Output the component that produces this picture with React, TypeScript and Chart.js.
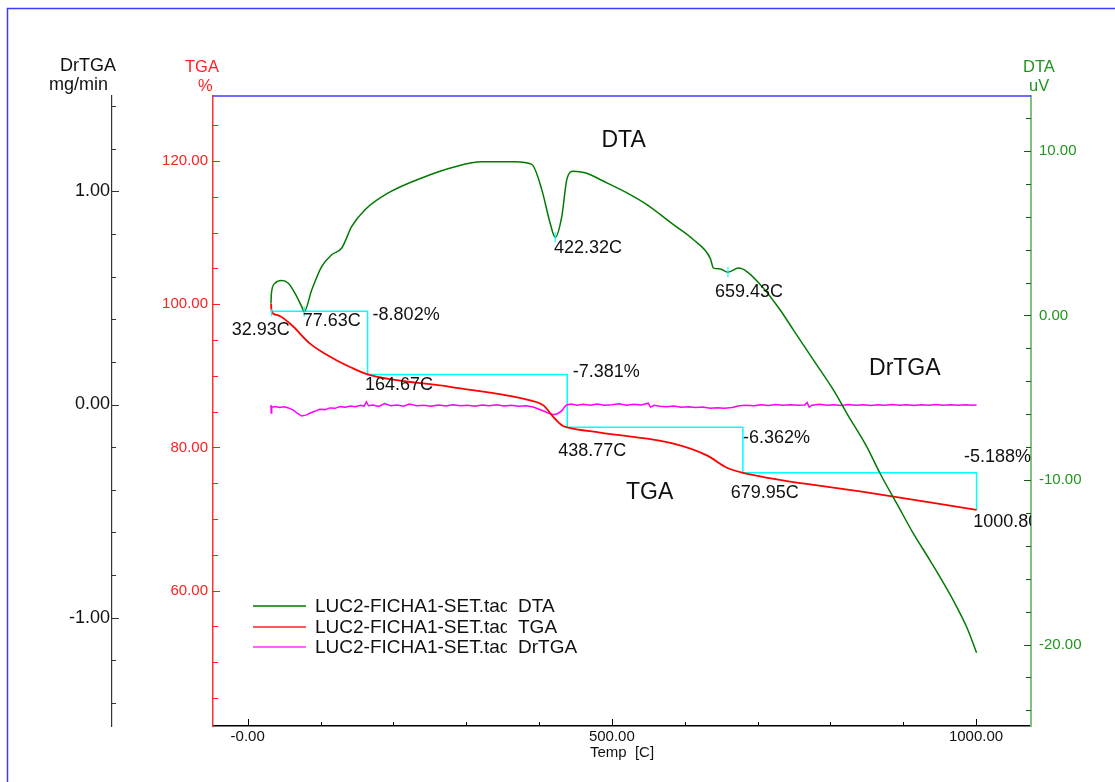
import React, { useEffect, useRef } from 'react';
import { Chart, registerables } from 'chart.js';

Chart.register(...registerables);

const FONT = '"Liberation Sans", Arial, Helvetica, sans-serif';

// ---- axes ----
const X_MIN = -47.6;
const X_MAX = 1075.5;
const X_TICKS = [0, 100, 200, 300, 400, 500, 600, 700, 800, 900, 1000];
const X_MAJOR = [0, 500, 1000];

const TGA_MIN = 41.09;
const TGA_MAX = 129.08;
const TGA_TICKS = [45, 50, 55, 60, 65, 70, 75, 80, 85, 90, 95, 100, 105, 110, 115, 120, 125];
const TGA_MAJOR = [60, 80, 100, 120];

const DR_MIN = -1.509;
const DR_MAX = 1.448;
const DR_TICKS = [-1.4, -1.2, -1.0, -0.8, -0.6, -0.4, -0.2, 0, 0.2, 0.4, 0.6, 0.8, 1.0, 1.2, 1.4];
const DR_MAJOR = [-1, 0, 1];

const DTA_MIN = -24.95;
const DTA_MAX = 13.34;
const DTA_TICKS = [-24, -22, -20, -18, -16, -14, -12, -10, -8, -6, -4, -2, 0, 2, 4, 6, 8, 10, 12];
const DTA_MAJOR = [-20, -10, 0, 10];

// ---- series ----
const DTA_T = [32.0, 32.6, 37.5, 46.7, 55.8, 65.0, 74.2, 77.63, 87.9, 101.6, 115.4, 129.1, 142.9, 161.1, 193.1, 239.0, 284.8, 321.4, 367.2, 390.1, 403.8, 415.2, 422.32, 431.3, 438.2, 447.3, 463.3, 493.1, 525.1, 548.1, 584.6, 612.1, 635.0, 639.6, 648.8, 659.43, 673.9, 685.4, 708.2, 731.2, 749.4, 776.9, 804.4, 822.8, 850.3, 868.5, 891.5, 914.3, 937.2, 969.2, 987.6, 1000.8];
const DTA_V = [0.74, 1.35, 1.96, 2.12, 1.96, 1.35, 0.54, 0.23, 1.55, 2.97, 3.69, 4.10, 5.41, 6.43, 7.45, 8.36, 9.04, 9.34, 9.34, 9.18, 7.65, 5.62, 4.74, 6.02, 8.26, 8.77, 8.67, 8.06, 7.35, 6.74, 5.52, 4.60, 3.49, 2.88, 2.83, 2.63, 2.88, 2.67, 1.66, 0.33, -0.89, -2.71, -4.54, -5.96, -8.00, -9.62, -11.45, -13.28, -14.91, -17.35, -18.98, -20.50];

const TGA_T = [32.0, 32.93, 40.0, 58.1, 85.6, 117.6, 140.5, 164.67, 277.9, 387.8, 406.0, 419.8, 431.3, 438.77, 483.9, 584.6, 630.5, 658.0, 679.95, 841.1, 1000.8];
const TGA_V = [100.1, 98.95, 98.5, 97.3, 94.5, 92.41, 91.23, 90.2, 88.46, 86.57, 85.87, 84.24, 83.08, 82.8, 82.07, 80.52, 78.88, 77.16, 76.46, 73.86, 71.27];

const DR_T = [32.0, 32.3, 33, 38, 44, 50, 56, 62, 68, 74, 80, 86, 92, 99, 106, 113, 120, 127, 134, 141, 148, 155, 160, 163, 166, 172, 180, 188, 196, 205, 214, 222, 232, 242, 252, 262, 272, 282, 292, 302, 312, 322, 332, 342, 352, 362, 372, 382, 392, 400, 408, 414, 420, 426, 431, 435, 438, 444, 452, 460, 470, 480, 490, 500, 510, 520, 530, 540, 550, 553, 558, 566, 575, 585, 595, 605, 615, 625, 635, 645, 655, 665, 675, 685, 695, 705, 715, 725, 735, 745, 755, 765, 768, 771, 775, 785, 795, 805, 815, 825, 835, 845, 855, 865, 875, 885, 895, 905, 915, 925, 935, 945, 955, 965, 975, 985, 995, 1000.8];
const DR_V = [-0.002, -0.04, -0.012, -0.01, -0.014, -0.011, -0.016, -0.025, -0.04, -0.054, -0.05, -0.04, -0.032, -0.022, -0.024, -0.016, -0.018, -0.01, -0.013, -0.007, -0.01, -0.004, -0.008, 0.012, -0.006, -0.002, -0.009, 0.004, -0.006, -0.002, -0.008, 0.002, -0.006, -0.003, -0.008, -0.002, -0.007, -0.001, -0.006, -0.003, -0.008, -0.002, -0.006, -0.001, -0.007, -0.003, -0.008, -0.006, -0.012, -0.022, -0.033, -0.043, -0.048, -0.042, -0.03, -0.012, -0.002, 0.002, -0.003, 0.001, -0.004, 0.002, -0.003, -0.001, 0.003, -0.004, 0.001, -0.002, 0.006, -0.012, -0.004, -0.008, -0.01, -0.007, -0.013, -0.01, -0.014, -0.012, -0.017, -0.015, -0.018, -0.014, -0.006, -0.003, -0.006, -0.001, -0.005, 0.0, -0.004, -0.001, -0.004, -0.002, 0.01, -0.012, -0.003, 0.001, -0.004, -0.001, -0.005, 0.0, -0.004, -0.001, -0.005, -0.001, -0.004, 0.0, -0.004, -0.001, -0.005, -0.001, -0.004, 0.0, -0.004, -0.001, -0.004, -0.001, -0.003, -0.002];

// TGA step analysis
const STEP_T = [32.93, 164.67, 438.77, 679.95, 1000.8];
const STEP_V = [99.0, 90.2, 82.8, 76.46, 71.27];
const STEP_LABELS = ['-8.802%', '-7.381%', '-6.362%', '-5.188%'];

// DTA peaks
const PEAK_T = [77.63, 422.32, 659.43];
const PEAK_V = [0.23, 4.74, 2.63];

const LEGEND_FILE = 'LUC2-FICHA1-SET.tad';
const LEGEND_NAMES = ['DTA', 'TGA', 'DrTGA'];

const C_DTA = '#007a00';
const C_TGA = '#ff0000';
const C_DR = '#ff00ff';
const C_STEP = '#00ffff';

const toPts = (ts: number[], vs: number[]) => ts.map((t, i) => ({ x: t, y: vs[i] }));

const overlayPlugin = {
  id: 'overlay',
  afterDraw(chart: any) {
    const { ctx, chartArea: ca, scales } = chart;
    const sx = scales.x;
    const sT = scales.yTGA;
    const sR = scales.yDr;
    const sD = scales.yDTA;
    ctx.save();

    // outer frame + top plot line
    ctx.strokeStyle = '#3c3cff';
    ctx.lineWidth = 1.5;
    ctx.beginPath();
    ctx.moveTo(7.5, 800);
    ctx.lineTo(7.5, 8.5);
    ctx.lineTo(1130, 8.5);
    ctx.stroke();
    ctx.beginPath();
    ctx.moveTo(ca.left, ca.top);
    ctx.lineTo(ca.right, ca.top);
    ctx.stroke();

    // inward tick marks
    const yTicks = (scale: any, ticks: number[], major: number[], x0: number, dir: number, lmaj: number, lmin: number, color: string) => {
      ctx.strokeStyle = color;
      ctx.lineWidth = 1;
      ticks.forEach((v) => {
        const y = Math.round(scale.getPixelForValue(v)) + 0.5;
        const l = major.includes(v) ? lmaj : lmin;
        ctx.beginPath();
        ctx.moveTo(x0, y);
        ctx.lineTo(x0 + dir * l, y);
        ctx.stroke();
      });
    };
    yTicks(sR, DR_TICKS, DR_MAJOR, sR.right, 1, 7, 4, '#333');
    yTicks(sT, TGA_TICKS, TGA_MAJOR, sT.right, 1, 7, 5, '#ff2020');
    yTicks(sD, DTA_TICKS, DTA_MAJOR, sD.left, -1, 7, 5, '#1a5a1a');
    ctx.strokeStyle = '#000';
    X_TICKS.forEach((v) => {
      const x = Math.round(sx.getPixelForValue(v)) + 0.5;
      const l = X_MAJOR.includes(v) ? 7 : 4;
      ctx.beginPath();
      ctx.moveTo(x, sx.top);
      ctx.lineTo(x, sx.top - l);
      ctx.stroke();
    });

    // annotations inside plot area
    ctx.save();
    ctx.beginPath();
    ctx.rect(ca.left, ca.top, ca.right - ca.left, ca.bottom - ca.top);
    ctx.clip();

    // cyan peak markers
    ctx.strokeStyle = C_STEP;
    ctx.lineWidth = 1.2;
    PEAK_T.forEach((t, i) => {
      const x = sx.getPixelForValue(t);
      const y = sD.getPixelForValue(PEAK_V[i]);
      ctx.beginPath();
      ctx.moveTo(x, y - 5);
      ctx.lineTo(x, y + 5);
      ctx.stroke();
    });
    {
      const x = sx.getPixelForValue(STEP_T[0]);
      const y = sT.getPixelForValue(STEP_V[0]);
      ctx.beginPath();
      ctx.moveTo(x, y - 2);
      ctx.lineTo(x, y + 5);
      ctx.stroke();
    }

    ctx.fillStyle = '#111';
    ctx.font = `18px ${FONT}`;
    ctx.textAlign = 'left';
    ctx.textBaseline = 'alphabetic';
    const tempOffsets = [[-40, 23.5], [-2.6, 15.6], [-9, 28.6], [-12.2, 25.6], [-3.3, 16.8]];
    STEP_T.forEach((t, i) => {
      const x = sx.getPixelForValue(t);
      const y = sT.getPixelForValue(STEP_V[i]);
      ctx.fillText(`${t.toFixed(2)}C`, x + tempOffsets[i][0], y + tempOffsets[i][1]);
    });
    const pctOffsets = [[5, 8.6], [5.4, 2.3], [0, 16], [-12.6, -10.4]];
    STEP_LABELS.forEach((s, i) => {
      const x = sx.getPixelForValue(STEP_T[i + 1]);
      const y = sT.getPixelForValue(STEP_V[i]);
      ctx.fillText(s, x + pctOffsets[i][0], y + pctOffsets[i][1]);
    });
    const peakOffsets = [[-1.5, 14], [-1.3, 15.8], [-13, 24.5]];
    PEAK_T.forEach((t, i) => {
      const x = sx.getPixelForValue(t);
      const y = sD.getPixelForValue(PEAK_V[i]);
      ctx.fillText(`${t.toFixed(2)}C`, x + peakOffsets[i][0], y + peakOffsets[i][1]);
    });

    // curve names
    ctx.font = `23px ${FONT}`;
    ctx.fillText('DTA', sx.getPixelForValue(485.7), sD.getPixelForValue(10.24));
    ctx.fillText('DrTGA', sx.getPixelForValue(853.1), sR.getPixelForValue(0.138));
    ctx.fillText('TGA', sx.getPixelForValue(519.4), sT.getPixelForValue(72.8));

    // legend
    const legColors = [C_DTA, '#ff2020', '#ff30ff'];
    const legY = [606, 627, 647];
    ctx.font = `19px ${FONT}`;
    ctx.textBaseline = 'middle';
    legY.forEach((y, i) => {
      ctx.strokeStyle = legColors[i];
      ctx.lineWidth = 1.5;
      ctx.beginPath();
      ctx.moveTo(253, y);
      ctx.lineTo(306, y);
      ctx.stroke();
      ctx.save();
      ctx.beginPath();
      ctx.rect(310, y - 15, 197, 30);
      ctx.clip();
      ctx.fillStyle = '#111';
      ctx.fillText(LEGEND_FILE, 315, y + 1);
      ctx.restore();
      ctx.fillStyle = '#111';
      ctx.fillText(LEGEND_NAMES[i], 518, y + 1);
    });
    ctx.restore();

    // axis titles
    ctx.textBaseline = 'alphabetic';
    ctx.textAlign = 'left';
    ctx.font = `18px ${FONT}`;
    ctx.fillStyle = '#111';
    ctx.fillText('DrTGA', 60, 71);
    ctx.save();
    ctx.beginPath();
    ctx.rect(0, 74, 110, 22);
    ctx.clip();
    ctx.fillText('mg/min', 49, 90);
    ctx.restore();
    ctx.font = `16.5px ${FONT}`;
    ctx.fillStyle = '#ff2020';
    ctx.fillText('TGA', 185, 72);
    ctx.fillText('%', 198, 90.5);
    ctx.fillStyle = '#1e961e';
    ctx.fillText('DTA', 1023, 72);
    ctx.fillText('uV', 1029, 90.5);

    ctx.restore();
  },
};

export default function App() {
  const ref = useRef<HTMLCanvasElement>(null);

  useEffect(() => {
    const canvas = ref.current;
    if (!canvas) return;
    const chart = new Chart(canvas, {
      type: 'line',
      data: {
        datasets: [
          {
            label: 'DTA',
            data: toPts(DTA_T, DTA_V),
            yAxisID: 'yDTA',
            borderColor: C_DTA,
            borderWidth: 1.5,
            pointRadius: 0,
            cubicInterpolationMode: 'monotone',
            fill: false,
          },
          {
            label: 'TGA',
            data: toPts(TGA_T, TGA_V),
            yAxisID: 'yTGA',
            borderColor: C_TGA,
            borderWidth: 1.8,
            pointRadius: 0,
            cubicInterpolationMode: 'monotone',
            fill: false,
          },
          {
            label: 'DrTGA',
            data: toPts(DR_T, DR_V),
            yAxisID: 'yDr',
            borderColor: C_DR,
            borderWidth: 1.5,
            pointRadius: 0,
            tension: 0,
            fill: false,
          },
          {
            label: 'steps',
            data: toPts(STEP_T, STEP_V),
            yAxisID: 'yTGA',
            borderColor: C_STEP,
            borderWidth: 1.5,
            pointRadius: 0,
            stepped: 'before',
            fill: false,
          },
        ],
      } as any,
      options: {
        responsive: false,
        animation: false,
        devicePixelRatio: 1,
        events: [],
        layout: { padding: { left: 0, right: 0, top: 96, bottom: 0 } },
        plugins: { legend: { display: false }, tooltip: { enabled: false }, title: { display: false } },
        scales: {
          x: {
            type: 'linear',
            position: 'bottom',
            min: X_MIN,
            max: X_MAX,
            afterBuildTicks: (s: any) => { s.ticks = X_TICKS.map((v) => ({ value: v })); },
            afterFit: (s: any) => { s.height = 56; },
            grid: { display: false, drawTicks: false },
            border: { display: true, color: '#000', width: 1.5 },
            ticks: {
              autoSkip: false,
              maxRotation: 0,
              minRotation: 0,
              padding: 2,
              color: '#111',
              font: { family: FONT, size: 15 },
              callback: (v: any) => (X_MAJOR.includes(v) ? (v === 0 ? '-0.00' : Number(v).toFixed(2)) : ''),
            },
            title: {
              display: true,
              text: 'Temp  [C]',
              color: '#111',
              font: { family: FONT, size: 15 },
              padding: { top: 0, bottom: 20 },
            },
          },
          yDr: {
            type: 'linear',
            position: 'left',
            weight: 10,
            min: DR_MIN,
            max: DR_MAX,
            afterBuildTicks: (s: any) => { s.ticks = DR_TICKS.map((v) => ({ value: v })); },
            afterFit: (s: any) => { s.width = 112; },
            grid: { display: false, drawTicks: false },
            border: { display: true, color: '#333', width: 1.2 },
            ticks: {
              autoSkip: false,
              padding: 2,
              color: '#111',
              font: { family: FONT, size: 18 },
              callback: (v: any) => (DR_MAJOR.includes(v) ? Number(v).toFixed(2) : ''),
            },
          },
          yTGA: {
            type: 'linear',
            position: 'left',
            weight: 0,
            min: TGA_MIN,
            max: TGA_MAX,
            afterBuildTicks: (s: any) => { s.ticks = TGA_TICKS.map((v) => ({ value: v })); },
            afterFit: (s: any) => { s.width = 101; },
            grid: { display: false, drawTicks: false },
            border: { display: true, color: '#ff3030', width: 1.5 },
            ticks: {
              autoSkip: false,
              padding: 5,
              color: '#ff2020',
              font: { family: FONT, size: 15 },
              callback: (v: any) => (TGA_MAJOR.includes(v) ? Number(v).toFixed(2) : ''),
            },
          },
          yDTA: {
            type: 'linear',
            position: 'right',
            min: DTA_MIN,
            max: DTA_MAX,
            afterBuildTicks: (s: any) => { s.ticks = DTA_TICKS.map((v) => ({ value: v })); },
            afterFit: (s: any) => { s.width = 84; },
            grid: { display: false, drawTicks: false },
            border: { display: true, color: '#80c080', width: 2 },
            ticks: {
              autoSkip: false,
              padding: 8,
              color: '#1e961e',
              font: { family: FONT, size: 15 },
              callback: (v: any) => (DTA_MAJOR.includes(v) ? Number(v).toFixed(2) : ''),
            },
          },
        },
      } as any,
      plugins: [overlayPlugin],
    });
    return () => chart.destroy();
  }, []);

  return (
    <div style={{ position: 'fixed', left: 0, top: 0, width: 1115, height: 782, background: '#fff' }}>
      <canvas ref={ref} width={1115} height={782} style={{ width: 1115, height: 782, display: 'block' }} />
    </div>
  );
}
